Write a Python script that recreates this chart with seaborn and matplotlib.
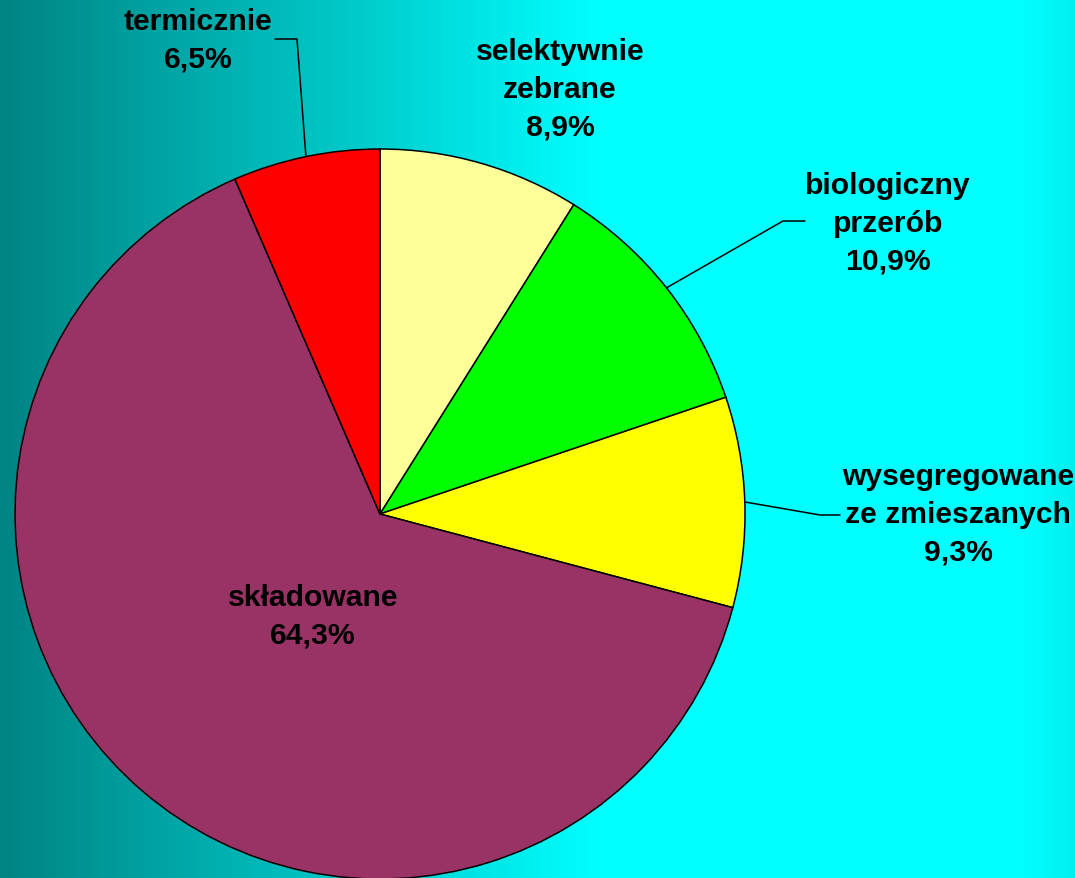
import numpy as np
import seaborn as sns
import matplotlib.pyplot as plt
from matplotlib.colors import LinearSegmentedColormap

# data
categories = ['selektywnie\nzebrane', 'biologiczny\nprzerób', 'wysegregowane\nze zmieszanych',
              'składowane', 'termicznie']
shares = [8.9, 10.9, 9.3, 64.3, 6.5]
pct_labels = ['8,9%', '10,9%', '9,3%', '64,3%', '6,5%']
colors = ['#FFFF99', '#00FF00', '#FFFF00', '#993366', '#FF0000']

sns.set_style("white")
plt.rcParams['font.family'] = ['Liberation Sans', 'DejaVu Sans']

W, H = 1075, 879
fig = plt.figure(figsize=(W / 100, H / 100), dpi=100)

# background gradient teal -> cyan
bg = fig.add_axes([0, 0, 1, 1])
cmap = LinearSegmentedColormap.from_list('bg', [(0.0, '#008484'), (0.3, '#00C4C4'),
                                                (0.56, '#00FFFF'), (0.95, '#00FFFF'),
                                                (1.0, '#00F0F0')])
bg.imshow(np.linspace(0, 1, 512).reshape(1, -1), cmap=cmap, aspect='auto',
          extent=(0, 1, 0, 1))
bg.set_axis_off()

# pie axes: centre at pixel (380, 515), radius 365 px
cx, cy, R = 380, 515, 365
ax = fig.add_axes([0, 0, 1, 1])
ax.patch.set_alpha(0)


def to(px, py):
    return (px - cx) / R, (cy - py) / R


wedges, _ = ax.pie(shares, colors=colors, startangle=90, counterclock=False,
                   radius=1, wedgeprops=dict(edgecolor='black', linewidth=1.1))
ax.set_aspect('auto')
ax.set_xlim(-cx / R, (W - cx) / R)
ax.set_ylim((cy - H) / R, cy / R)
ax.set_axis_off()

# label centres (pixel) and leader line elbows
label_pos = [(560, 90), (888, 224), (958, 515), (313, 617), (198, 41)]
leaders = {1: [(783, 222), (805, 222)],
           2: [(820, 516), (840, 516)],
           4: [(297, 40), (275, 40)]}

for i, w in enumerate(wedges):
    x, y = to(*label_pos[i])
    ax.text(x, y, categories[i] + '\n' + pct_labels[i], ha='center', va='center',
            fontsize=21.7, fontweight='bold', color='black', linespacing=1.45)
    if i in leaders:
        mid = np.deg2rad((w.theta1 + w.theta2) / 2)
        pts = [(np.cos(mid), np.sin(mid))] + [to(*p) for p in leaders[i]]
        xs, ys = zip(*pts)
        ax.plot(xs, ys, color='black', linewidth=1.1)

fig.savefig('out.png', dpi=100)
